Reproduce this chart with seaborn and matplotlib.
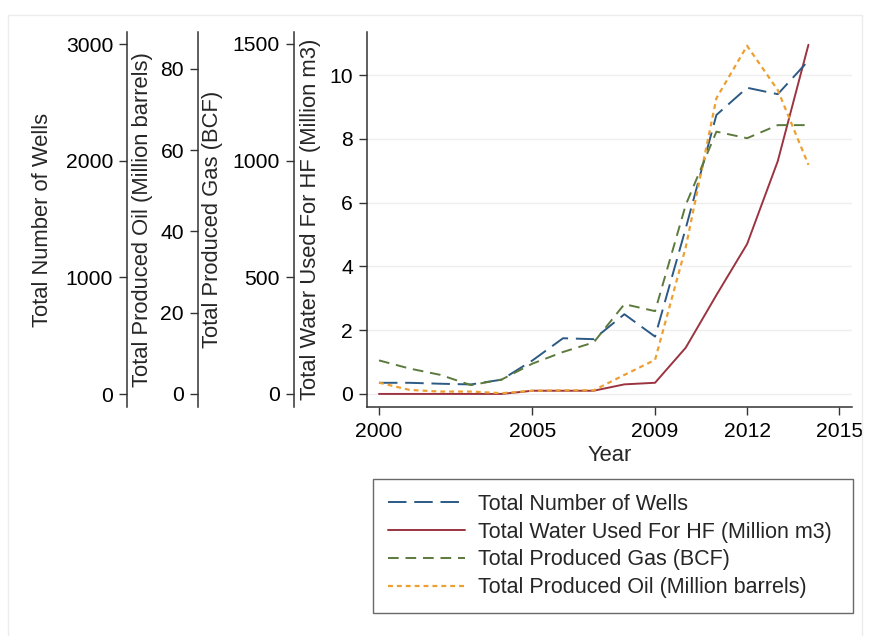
import matplotlib
matplotlib.use("Agg")
import matplotlib.pyplot as plt
import seaborn as sns
import pandas as pd
from matplotlib.patches import Rectangle

# ---- data ----
years = list(range(2000, 2015))
wells = [96, 96, 88, 82, 123, 287, 478, 470, 684, 492, 1420, 2392, 2625, 2570, 2857]
water = [0.0, 0.0, 0.0, 0.0, 0.0, 0.1, 0.1, 0.1, 0.3, 0.35, 1.45, 3.1, 4.7, 7.3, 10.95]
gas = [144, 109, 82, 38, 62, 130, 180, 221, 385, 355, 810, 1124, 1096, 1152, 1152]
oil = [2.8, 1.0, 0.6, 0.6, 0.2, 0.8, 0.9, 0.9, 4.7, 8.4, 36.1, 72.8, 85.7, 74.8, 56.4]

x_ticks = [2000, 2005, 2009, 2012, 2015]
water_ticks = [0, 2, 4, 6, 8, 10]
wells_ticks = [0, 1000, 2000, 3000]
oil_ticks = [0, 20, 40, 60, 80]
gas_ticks = [0, 500, 1000, 1500]

lab_wells = "Total Number of Wells"
lab_water = "Total Water Used For HF (Million m3)"
lab_gas = "Total Produced Gas (BCF)"
lab_oil = "Total Produced Oil (Million barrels)"

df = pd.DataFrame({"Year": years, "wells": wells, "water": water, "gas": gas, "oil": oil})

sns.set_theme(style="ticks")
plt.rcParams["font.family"] = ["Liberation Sans", "DejaVu Sans"]

W, H = 870, 636
fig = plt.figure(figsize=(W / 100, H / 100), dpi=100)

L, R, T, B = 367, 852, 32, 407
ax = fig.add_axes([L / W, 1 - B / H, (R - L) / W, (B - T) / H])

c_wells = "#2c5a85"
c_water = "#9b3440"
c_gas = "#5c7a3c"
c_oil = "#eda032"
spine_c = "#333333"
fs_tick = 15.2
fs_lab = 15.8

ax_wells = ax.twinx()
ax_oil = ax.twinx()
ax_gas = ax.twinx()

def px_frac(px):
    return (px - L) / (R - L)

for a, pos in [(ax_wells, 127), (ax_oil, 198), (ax_gas, 294)]:
    for s in ["top", "right", "bottom"]:
        a.spines[s].set_visible(False)
    a.spines["left"].set_visible(True)
    a.spines["left"].set_position(("axes", px_frac(pos)))
    a.spines["left"].set_color(spine_c)
    a.yaxis.set_ticks_position("left")
    a.yaxis.set_label_position("left")
    a.patch.set_visible(False)

# lines
sns.lineplot(data=df, x="Year", y="water", ax=ax, color=c_water, lw=1.4, legend=False)
sns.lineplot(data=df, x="Year", y="wells", ax=ax_wells, color=c_wells, lw=1.4, legend=False)
ax_wells.lines[-1].set_dashes([9.5, 4])
sns.lineplot(data=df, x="Year", y="gas", ax=ax_gas, color=c_gas, lw=1.4, legend=False)
ax_gas.lines[-1].set_dashes([5.5, 3.5])
sns.lineplot(data=df, x="Year", y="oil", ax=ax_oil, color=c_oil, lw=1.6, legend=False)
ax_oil.lines[-1].set_dashes([2.2, 1.8])

ax.set_xlim(1999.61, 2015.42)
ax.set_ylim(-0.41, 11.35)
ax_wells.set_ylim(-111.4, 3103)
ax_oil.set_ylim(-3.2, 89.1)
ax_gas.set_ylim(-55.7, 1551)

ax.set_xticks(x_ticks)
ax.set_yticks(water_ticks)
ax_wells.set_yticks(wells_ticks)
ax_oil.set_yticks(oil_ticks)
ax_gas.set_yticks(gas_ticks)

for s in ["top", "right"]:
    ax.spines[s].set_visible(False)
for s in ["left", "bottom"]:
    ax.spines[s].set_color(spine_c)
    ax.spines[s].set_linewidth(1.1)

ax.grid(axis="y", color="#eeeeee", lw=1.0)
ax.set_axisbelow(True)

for a in [ax, ax_wells, ax_oil, ax_gas]:
    a.tick_params(axis="y", direction="out", length=6, width=1, color=spine_c,
                  labelsize=fs_tick, pad=4, labelcolor="black")
    a.spines["left"].set_linewidth(1.1)
ax.tick_params(axis="x", direction="out", length=6, width=1, color=spine_c,
               labelsize=fs_tick, pad=5, labelcolor="black")

ax.set_xlabel("Year", fontsize=fs_lab, labelpad=3)
ax.set_ylabel(lab_water, fontsize=fs_lab)
ax_wells.set_ylabel(lab_wells, fontsize=fs_lab)
ax_oil.set_ylabel(lab_oil, fontsize=fs_lab)
ax_gas.set_ylabel(lab_gas, fontsize=fs_lab)
ax.yaxis.set_label_coords(px_frac(321), 0.5)
ax_wells.yaxis.set_label_coords(px_frac(53), 0.5)
ax_oil.yaxis.set_label_coords(px_frac(153), 0.5)
ax_gas.yaxis.set_label_coords(px_frac(223), 0.5)

# legend
handles = [ax_wells.lines[-1], ax.lines[0], ax_gas.lines[-1], ax_oil.lines[-1]]
labels = [lab_wells, lab_water, lab_gas, lab_oil]
leg = fig.legend(handles, labels, loc="upper left",
                 bbox_to_anchor=(373 / W, 1 - 479 / H, (853 - 373) / W, 0.0),
                 mode="expand", fontsize=15.5, frameon=True, fancybox=False,
                 handlelength=3.6, handletextpad=0.6, labelspacing=0.32,
                 borderpad=0.68, borderaxespad=0)
leg.get_frame().set_edgecolor("#444444")
leg.get_frame().set_linewidth(1.0)

# faint outer frame
fig.patches.append(Rectangle((8 / W, -0.05), (862 - 8) / W, 1.05 - 15 / H,
                             transform=fig.transFigure, fill=False,
                             edgecolor="#ececec", lw=1.0))

fig.savefig("out.png", dpi=100)
